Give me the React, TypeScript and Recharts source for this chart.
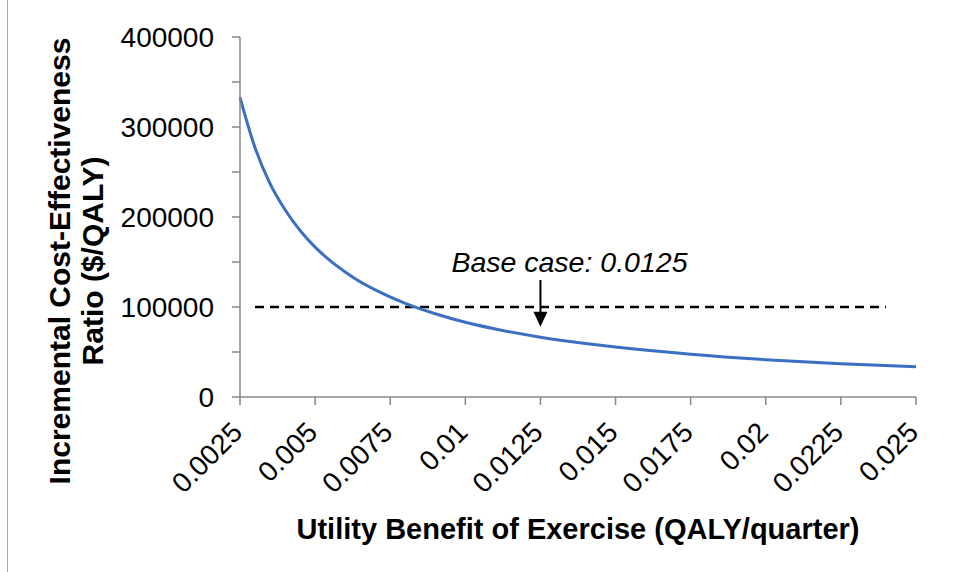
import { LineChart, Line, XAxis, YAxis, ReferenceLine } from 'recharts';

const benefit = [0.0025, 0.003, 0.0035, 0.004, 0.0045, 0.005, 0.0055, 0.006, 0.0065, 0.007, 0.008, 0.009, 0.01, 0.011, 0.0125, 0.014, 0.015, 0.0175, 0.02, 0.0225, 0.025];
const icer = [333000, 277000, 237000, 208000, 185000, 166500, 151500, 139000, 128000, 119000, 104000, 92500, 83000, 75500, 66500, 59500, 55500, 47500, 41500, 37000, 33500];

const xTicks = [0.0025, 0.005, 0.0075, 0.01, 0.0125, 0.015, 0.0175, 0.02, 0.0225, 0.025];
const yTicks = [0, 50000, 100000, 150000, 200000, 250000, 300000, 350000, 400000];

const threshold = 100000;
const thresholdRange = [0.003, 0.024];
const baseCase = 0.0125;
const arrowRange = [130000, 78000];
const baseCaseLabel = 'Base case: 0.0125';

const font = '"Liberation Sans", Arial, sans-serif';
const axisColor = '#878787';

const data = benefit.map((x, i) => ({ x, icer: icer[i] }));

const XTick = (props: any) => {
  const { x, y, payload } = props;
  return (
    <g transform={`translate(${x + 4},${y + 29})`}>
      <text textAnchor="end" transform="rotate(-45)" fontFamily={font} fontSize={28} fill="#000">
        {String(payload.value)}
      </text>
    </g>
  );
};

const YTitle = () => {
  const cy = 261;
  return (
    <g fontFamily={font} fontSize={30} fontWeight="bold" fill="#000">
      <text transform={`translate(70,${cy}) rotate(-90)`} textAnchor="middle">
        Incremental Cost-Effectiveness
      </text>
      <text transform={`translate(103,${cy}) rotate(-90)`} textAnchor="middle">
        Ratio ($/QALY)
      </text>
    </g>
  );
};

const XTitle = (props: any) => {
  const { viewBox } = props;
  return (
    <text x={viewBox.x + viewBox.width / 2} y={539} textAnchor="middle" fontFamily={font} fontSize={29} fontWeight="bold" fill="#000">
      Utility Benefit of Exercise (QALY/quarter)
    </text>
  );
};

const Arrow = (props: any) => {
  const { x1, y1, x2, y2 } = props;
  return (
    <g>
      <line x1={x1} y1={y1} x2={x2} y2={y2 - 14} stroke="#000" strokeWidth={2} />
      <polygon points={`${x2 - 7},${y2 - 15} ${x2 + 7},${y2 - 15} ${x2},${y2}`} fill="#000" />
      <text x={x1 + 29} y={y1 - 8} textAnchor="middle" fontFamily={font} fontSize={28.5} fontStyle="italic" fill="#000">
        {baseCaseLabel}
      </text>
    </g>
  );
};

export default function App() {
  return (
    <div style={{ position: 'absolute', left: 0, top: 0, width: 955, height: 572, background: '#fff' }}>
      <div style={{ position: 'absolute', left: 7, top: 0, width: 1, height: 572, background: '#a8a8a8' }} />
      <LineChart width={955} height={572} data={data} margin={{ top: 37, right: 39, bottom: 0, left: 0 }}>
        <XAxis
          dataKey="x"
          type="number"
          domain={[0.0025, 0.025]}
          ticks={xTicks}
          interval={0}
          height={175}
          tickSize={8}
          tickMargin={0}
          stroke={axisColor}
          strokeWidth={1.5}
          tick={<XTick />}
          label={{ content: <XTitle /> }}
        />
        <YAxis
          type="number"
          domain={[0, 400000]}
          ticks={yTicks}
          interval={0}
          width={240}
          tickSize={8}
          tickMargin={18}
          stroke={axisColor}
          strokeWidth={1.5}
          tick={{ fill: '#000', fontSize: 28, fontFamily: font }}
          tickFormatter={(v: number) => (v % 100000 === 0 ? String(v) : '')}
          label={{ content: <YTitle /> }}
        />
        <ReferenceLine
          segment={[{ x: thresholdRange[0], y: threshold }, { x: thresholdRange[1], y: threshold }]}
          stroke="#000"
          strokeWidth={2.5}
          strokeDasharray="9 6"
        />
        <Line
          type="monotone"
          dataKey="icer"
          stroke="#3A6FC1"
          strokeWidth={3}
          dot={false}
          isAnimationActive={false}
        />
        <ReferenceLine
          segment={[{ x: baseCase, y: arrowRange[0] }, { x: baseCase, y: arrowRange[1] }]}
          shape={<Arrow />}
        />
      </LineChart>
    </div>
  );
}
